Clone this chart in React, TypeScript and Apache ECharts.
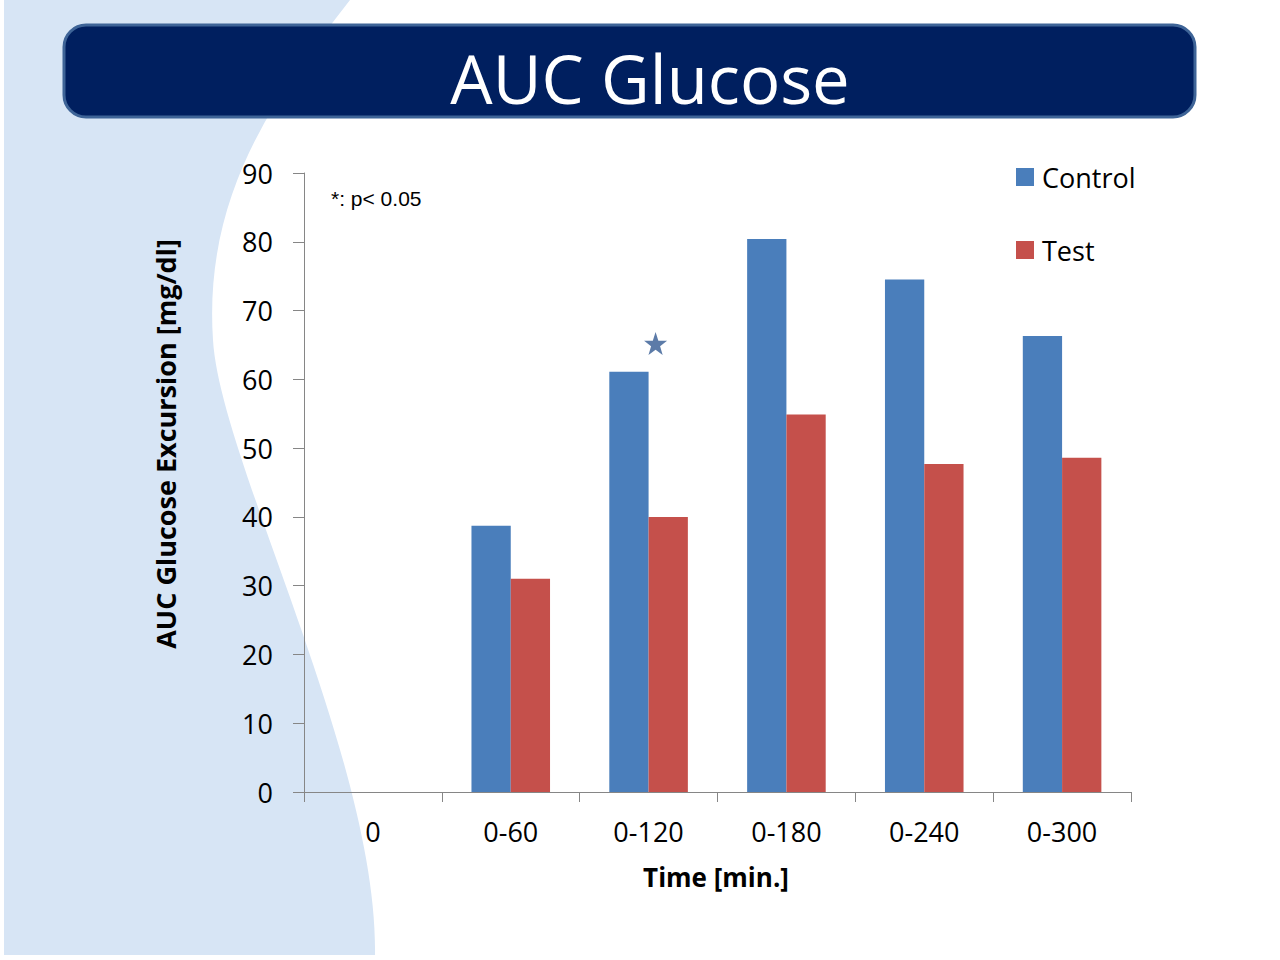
import React, { useEffect, useRef } from "react";
import * as echarts from "echarts";

const categories = ["0", "0-60", "0-120", "0-180", "0-240", "0-300"];
const controlValues = [0, 38.7, 61.1, 80.4, 74.5, 66.3];
const testValues = [0, 31.0, 40.0, 54.9, 47.7, 48.6];
const significantPoints = [["0-120", 65.2]];
const yMin = 0;
const yMax = 90;
const yInterval = 10;

const titleText = "AUC Glucose";
const yName = "AUC Glucose Excursion [mg/dl]";
const xName = "Time [min.]";
const noteText = "*: p< 0.05";

const FONT = "'Open Sans', 'DejaVu Sans', sans-serif";
const STAR =
  "path://M12,0 L14.9,8.6 L24,8.8 L16.7,14.2 L19.4,23 L12,17.7 L4.6,23 L7.3,14.2 L0,8.8 L9.1,8.6 Z";

let registered = false;
function registerShapes() {
  if (registered) return;
  registered = true;
  const d =
    "M4,0 L350,0 C280,90 203,190 213,340 C220,460 378,760 375,955 L4,955 Z";
  echarts.graphic.registerShape("swoosh", echarts.graphic.extendPath(d, {}));
}

export default function App() {
  const ref = useRef<HTMLDivElement>(null);
  useEffect(() => {
    if (!ref.current) return;
    registerShapes();
    const chart = echarts.init(ref.current, null, { renderer: "svg" });
    chart.setOption({
      animation: false,
      backgroundColor: "#ffffff",
      graphic: [
        {
          type: "swoosh",
          x: 0,
          y: 0,
          z: -10,
          style: { fill: "#d7e5f5" },
        },
        {
          type: "rect",
          z: 10,
          shape: { x: 64, y: 25, width: 1131, height: 92, r: 22 },
          style: { fill: "#001f5f", stroke: "#3e6497", lineWidth: 3 },
        },
        {
          type: "text",
          z: 11,
          x: 650,
          y: 78,
          style: {
            text: titleText,
            fill: "#ffffff",
            font: `67px ${FONT}`,
            textAlign: "center",
            textVerticalAlign: "middle",
          },
        },
        {
          type: "text",
          z: 11,
          x: 331,
          y: 198,
          style: {
            text: noteText,
            fill: "#000000",
            font: "21px 'Liberation Sans', Arial, sans-serif",
            textAlign: "left",
            textVerticalAlign: "middle",
          },
        },
        {
          type: "text",
          z: 11,
          x: 716,
          y: 877,
          style: {
            text: xName,
            fill: "#000000",
            font: `bold 26px ${FONT}`,
            textAlign: "center",
            textVerticalAlign: "middle",
          },
        },
        {
          type: "text",
          z: 11,
          x: 165,
          y: 444,
          rotation: Math.PI / 2,
          style: {
            text: yName,
            fill: "#000000",
            font: `bold 27px ${FONT}`,
            textAlign: "center",
            textVerticalAlign: "middle",
          },
        },
      ],
      legend: {
        data: ["Control", "Test"],
        orient: "vertical",
        left: 1016,
        top: 162,
        padding: 0,
        itemWidth: 18,
        itemHeight: 18,
        itemGap: 43,
        icon: "rect",
        textStyle: {
          fontFamily: FONT,
          fontSize: 27,
          color: "#000000",
          lineHeight: 30,
          padding: [0, 0, 0, 3],
        },
      },
      grid: { left: 304, right: 149, top: 173, bottom: 168, containLabel: false },
      xAxis: {
        type: "category",
        data: categories,
        axisLine: { lineStyle: { color: "#868686", width: 1 } },
        axisTick: { show: true, length: 10, lineStyle: { color: "#868686" } },
        axisLabel: {
          margin: 26,
          fontFamily: FONT,
          fontSize: 27,
          color: "#000000",
        },
        splitLine: { show: false },
      },
      yAxis: {
        type: "value",
        min: yMin,
        max: yMax,
        interval: yInterval,
        axisLine: { show: true, lineStyle: { color: "#868686", width: 1 } },
        axisTick: { show: true, length: 11, lineStyle: { color: "#868686" } },
        axisLabel: {
          margin: 31,
          fontFamily: FONT,
          fontSize: 27,
          color: "#000000",
        },
        splitLine: { show: false },
      },
      series: [
        {
          name: "Control",
          type: "bar",
          data: controlValues,
          barGap: "0%",
          barCategoryGap: "43%",
          itemStyle: { color: "#4a7ebb" },
        },
        {
          name: "Test",
          type: "bar",
          data: testValues,
          barGap: "0%",
          barCategoryGap: "43%",
          itemStyle: { color: "#c5504b" },
        },
        {
          name: "sig",
          type: "scatter",
          data: significantPoints,
          symbol: STAR,
          symbolSize: 23,
          symbolOffset: [7, 0],
          itemStyle: { color: "#335a92" },
          z: 5,
        },
      ],
    });
    return () => chart.dispose();
  }, []);
  return (
    <div
      ref={ref}
      style={{ position: "absolute", left: 0, top: 0, width: 1280, height: 960 }}
    />
  );
}
